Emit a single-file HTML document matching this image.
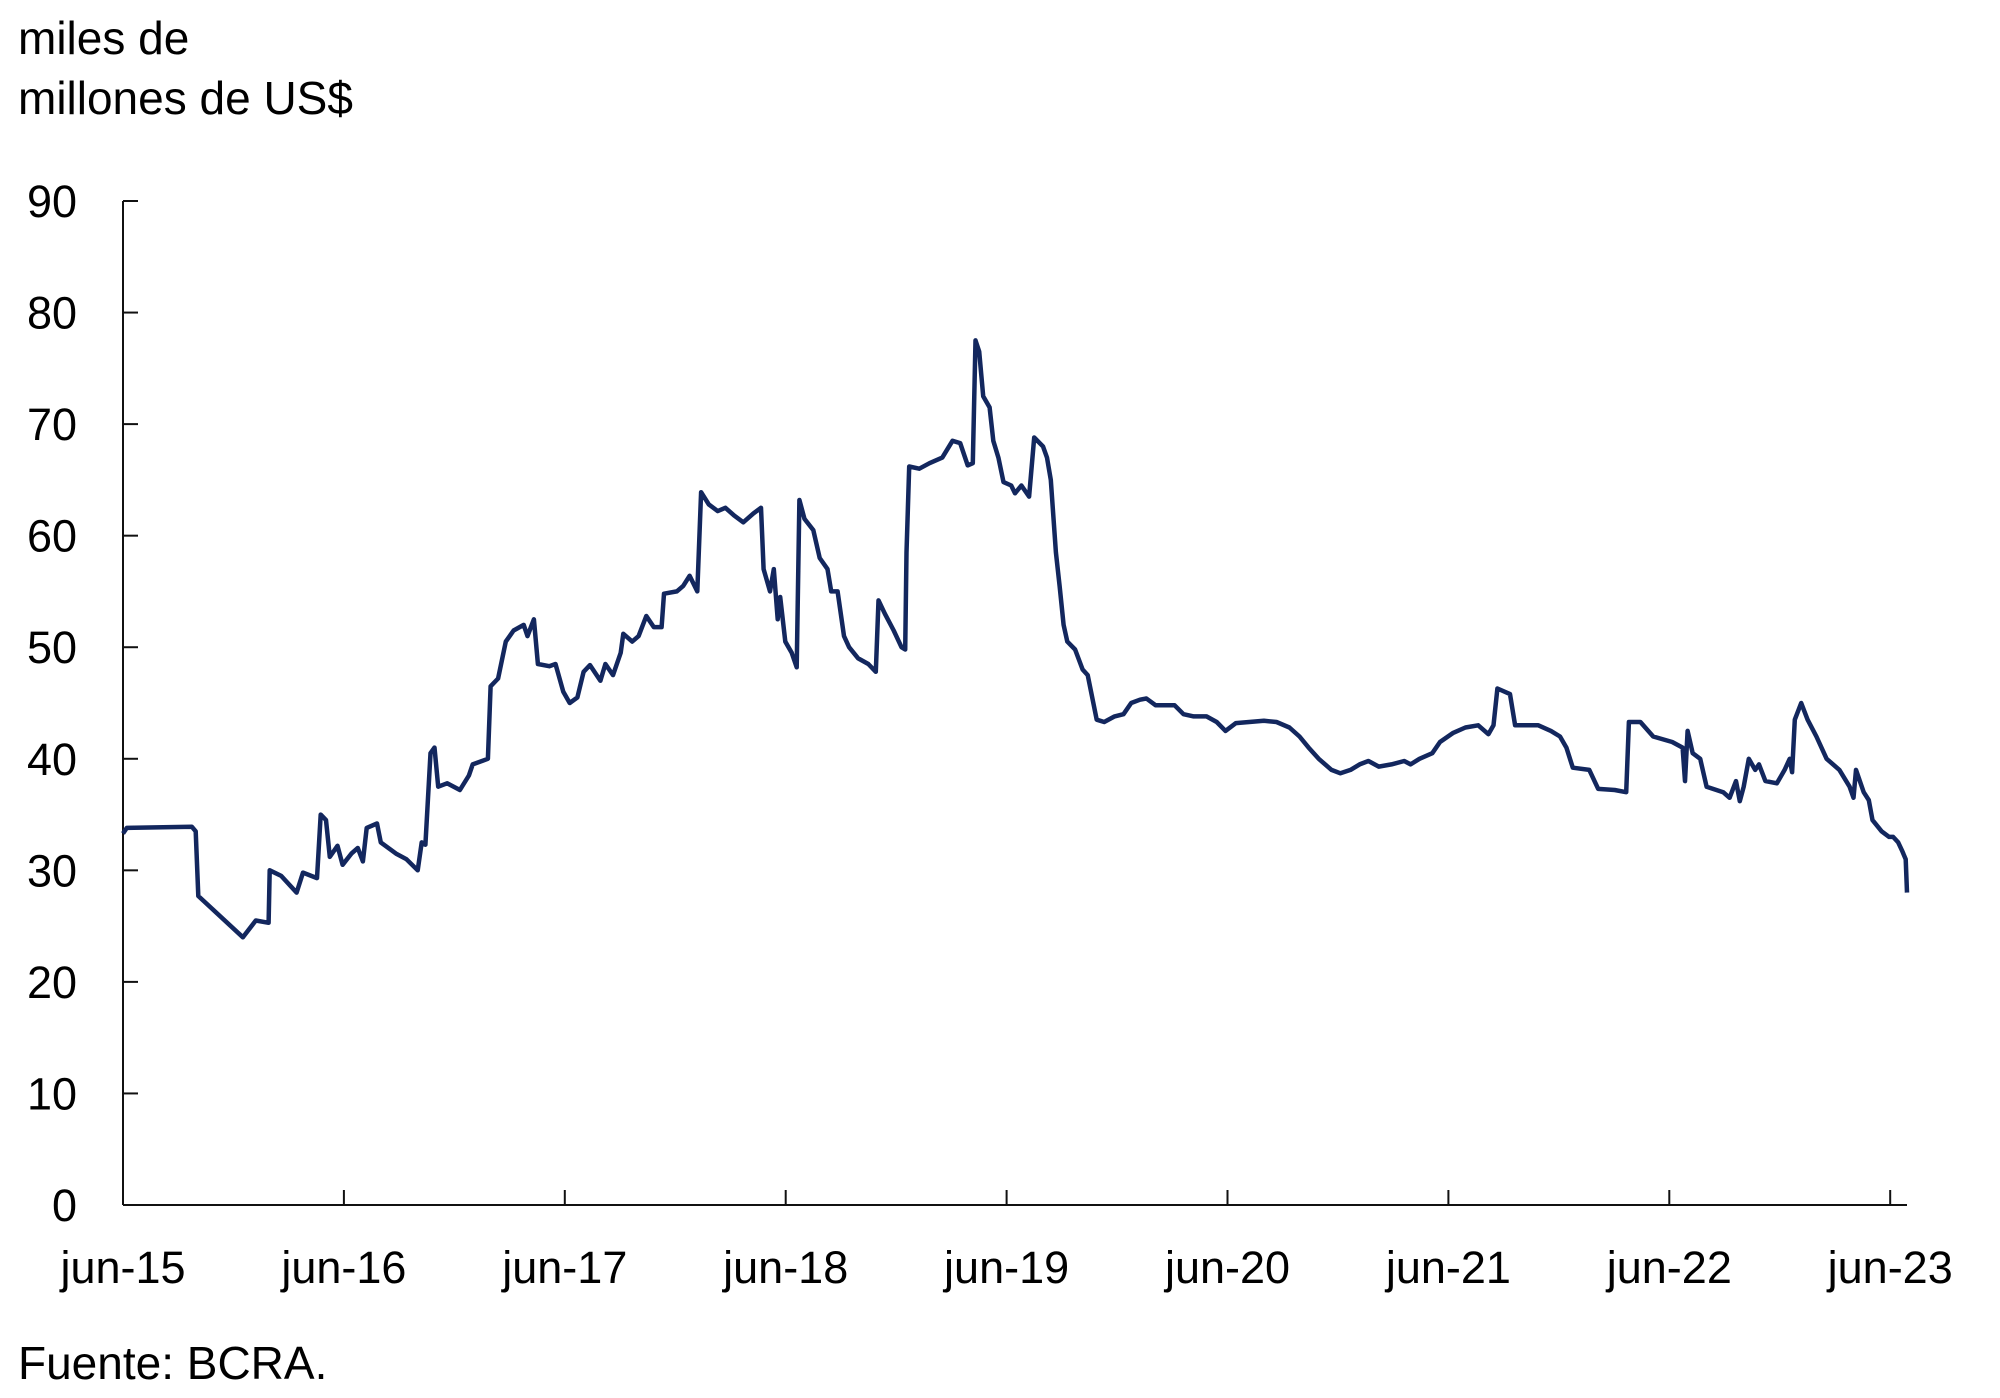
<!DOCTYPE html>
<html><head><meta charset="utf-8"><style>
html,body{margin:0;padding:0;background:#fff;}
svg{display:block;font-family:"Liberation Sans",Arial,sans-serif;}
</style></head><body>
<svg id="chart" width="2000" height="1398" viewBox="0 0 2000 1398">
<text x="18" y="54" font-size="46" fill="#000">miles de</text>
<text x="18" y="114" font-size="46" fill="#000">millones de US$</text>
<g id="axes"></g>
<path id="line" fill="none" stroke="#13275e" stroke-width="4.5" stroke-linejoin="round"></path>
<text x="18" y="1379" font-size="46" fill="#000">Fuente: BCRA.</text>
</svg>
<script>
// years since jun-15
const dates = [0,.017,.312,.329,.341,.543,.601,.659,.664,.716,.786,.815,.878,.895,.919,.936,.971,.994,1.034,1.063,1.086,1.103,1.150,1.167,1.236,1.283,1.334,1.352,1.369,1.392,1.410,1.427,1.467,1.525,1.566,1.583,1.652,1.664,1.698,1.733,1.768,1.814,1.831,1.860,1.878,1.930,1.958,1.993,2.022,2.057,2.085,2.114,2.161,2.184,2.218,2.253,2.265,2.305,2.334,2.369,2.403,2.438,2.449,2.507,2.536,2.565,2.600,2.617,2.652,2.692,2.727,2.767,2.808,2.854,2.888,2.900,2.929,2.946,2.964,2.975,2.998,3.027,3.050,3.062,3.085,3.125,3.154,3.189,3.206,3.235,3.264,3.287,3.328,3.374,3.408,3.420,3.449,3.489,3.524,3.541,3.547,3.559,3.605,3.651,3.709,3.755,3.790,3.824,3.847,3.859,3.876,3.894,3.923,3.940,3.963,3.986,4.021,4.038,4.067,4.102,4.125,4.165,4.183,4.200,4.223,4.240,4.258,4.275,4.310,4.344,4.367,4.408,4.442,4.489,4.529,4.564,4.604,4.633,4.674,4.760,4.801,4.847,4.905,4.951,4.991,5.038,5.165,5.222,5.280,5.326,5.367,5.413,5.471,5.511,5.557,5.598,5.638,5.685,5.742,5.800,5.829,5.869,5.927,5.962,6.020,6.077,6.135,6.181,6.204,6.222,6.279,6.302,6.407,6.464,6.505,6.534,6.563,6.638,6.678,6.753,6.805,6.817,6.869,6.927,7.013,7.060,7.071,7.083,7.106,7.140,7.169,7.244,7.273,7.302,7.319,7.337,7.360,7.389,7.406,7.435,7.487,7.522,7.545,7.556,7.568,7.597,7.626,7.666,7.712,7.770,7.816,7.834,7.845,7.880,7.903,7.920,7.961,7.995,8.013,8.036,8.053,8.070,8.076];
const values = [33.3,33.8,33.9,33.5,27.7,24.0,25.5,25.3,30.0,29.5,28.0,29.8,29.3,35.0,34.5,31.2,32.2,30.5,31.5,32.0,30.8,33.8,34.2,32.5,31.5,31.0,30.0,32.5,32.3,40.5,41.0,37.5,37.8,37.2,38.5,39.5,40.0,46.5,47.2,50.5,51.5,52.0,51.0,52.5,48.5,48.3,48.5,46.0,45.0,45.5,47.8,48.4,47.0,48.5,47.5,49.5,51.2,50.5,51.0,52.8,51.8,51.8,54.8,55.0,55.5,56.4,55.0,63.9,62.8,62.2,62.5,61.8,61.2,62.0,62.5,57.0,55.0,57.0,52.5,54.5,50.5,49.5,48.2,63.2,61.5,60.5,58.0,57.0,55.0,55.0,51.0,50.0,49.0,48.5,47.8,54.2,53.0,51.5,50.0,49.8,58.5,66.2,66.0,66.5,67.0,68.5,68.3,66.3,66.5,77.5,76.5,72.5,71.5,68.5,67.0,64.8,64.5,63.8,64.5,63.5,68.8,68.0,67.0,65.0,58.5,55.5,52.0,50.5,49.8,48.0,47.5,43.5,43.3,43.8,44.0,45.0,45.3,45.4,44.8,44.8,44.0,43.8,43.8,43.3,42.5,43.2,43.4,43.3,42.8,42.0,41.0,40.0,39.0,38.7,39.0,39.5,39.8,39.3,39.5,39.8,39.5,40.0,40.5,41.5,42.3,42.8,43.0,42.2,43.0,46.3,45.8,43.0,43.0,42.5,42.0,41.0,39.2,39.0,37.3,37.2,37.0,43.3,43.3,42.0,41.5,41.0,38.0,42.5,40.5,40.0,37.5,37.0,36.5,38.0,36.2,37.5,40.0,39.0,39.5,38.0,37.8,39.0,40.0,38.8,43.5,45.0,43.5,42.0,40.0,39.0,37.5,36.5,39.0,37.0,36.3,34.5,33.5,33.0,33.0,32.5,31.8,31.0,28.0];
const yTicks = [0,10,20,30,40,50,60,70,80,90];
const xTickLabels = ["jun-15","jun-16","jun-17","jun-18","jun-19","jun-20","jun-21","jun-22","jun-23"];

const X0=123, PERYEAR=220.9, Y0=1205, YTOP=201, YMAX=90, XEND=1907;
const xs = t => X0 + t*PERYEAR;
const ys = v => Y0 - v/YMAX*(Y0-YTOP);
const NS="http://www.w3.org/2000/svg";
const axes=document.getElementById('axes');
function mk(tag, attrs){const e=document.createElementNS(NS,tag);for(const k in attrs)e.setAttribute(k,attrs[k]);return e;}

const yl=mk('line',{x1:X0,y1:YTOP,x2:X0,y2:Y0,stroke:'#111','stroke-width':2});


axes.appendChild(yl);
const xl=mk('line',{x1:X0,y1:Y0,x2:XEND,y2:Y0,stroke:'#111','stroke-width':2});


axes.appendChild(xl);

yTicks.forEach(v=>{
  const y=ys(v);
  const t=mk('line',{x1:X0,y1:y,x2:X0+15,y2:y,stroke:'#111','stroke-width':2});
  
  
  axes.appendChild(t);
  const l=mk('text',{x:77,y:y+16,'font-size':45,'text-anchor':'end',fill:'#000'});
  l.textContent=v;
  
  
  axes.appendChild(l);
});
xTickLabels.forEach((s,i)=>{
  const x=xs(i);
  const t=mk('line',{x1:x,y1:Y0,x2:x,y2:Y0-15,stroke:'#111','stroke-width':2});
  
  
  axes.appendChild(t);
  const l=mk('text',{x:x,y:1283,'font-size':45,'text-anchor':'middle',fill:'#000'});
  l.textContent=s;
  
  
  axes.appendChild(l);
});
let d='';
dates.forEach((t,i)=>{d+=(i?'L':'M')+xs(t).toFixed(1)+','+ys(values[i]).toFixed(1);});
document.getElementById('line').setAttribute('d',d);
</script>
</body></html>
